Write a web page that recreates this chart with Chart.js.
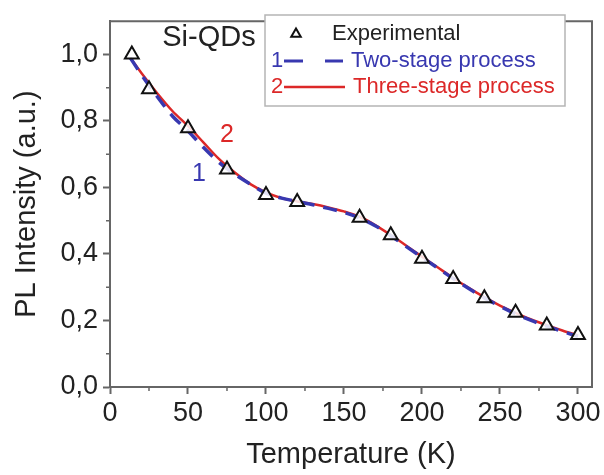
<!DOCTYPE html>
<html>
<head>
<meta charset="utf-8">
<script src="https://cdn.jsdelivr.net/npm/chart.js@4.4.1/dist/chart.umd.min.js"></script>
<style>
  html, body { margin: 0; padding: 0; background: #fff; }
  #wrap { width: 604px; height: 475px; }
</style>
</head>
<body>
<div id="wrap"><canvas id="plChart"></canvas></div>
<script>
// ── Data ──────────────────────────────────────────────────────────────────
const expTemp  = [14, 25, 50, 75, 100, 120, 160, 180, 200, 220, 240, 260, 280, 300];
const expPL    = [1.0, 0.895, 0.778, 0.654, 0.577, 0.556, 0.509, 0.456, 0.386, 0.325, 0.267, 0.223, 0.185, 0.156];

const fitTemp  = [13, 20, 30, 40, 50, 60, 70, 80, 90, 100, 110, 120, 130, 140, 150,
                  160, 170, 180, 190, 200, 210, 220, 230, 240, 250, 260, 270, 280, 290, 300];
const twoStage = [0.99, 0.94, 0.875, 0.815, 0.77, 0.72, 0.675, 0.64, 0.61, 0.583, 0.568, 0.558, 0.548, 0.537, 0.525,
                  0.508, 0.485, 0.455, 0.422, 0.39, 0.358, 0.326, 0.296, 0.268, 0.243, 0.22, 0.2, 0.183, 0.167, 0.152];
const threeStage = [0.99, 0.945, 0.885, 0.83, 0.785, 0.735, 0.685, 0.645, 0.61, 0.585, 0.568, 0.558, 0.55, 0.54, 0.528,
                  0.512, 0.487, 0.457, 0.425, 0.392, 0.36, 0.328, 0.298, 0.27, 0.245, 0.223, 0.203, 0.186, 0.17, 0.155];

const xMajor = [0, 50, 100, 150, 200, 250, 300];
const xMinor = [25, 75, 125, 175, 225, 275];
const yMajor = [0, 0.2, 0.4, 0.6, 0.8, 1.0];
const yMinor = [0.1, 0.3, 0.5, 0.7, 0.9];

const FONT = "'Liberation Sans', Arial, sans-serif";
const BLUE = '#3838b0';
const RED  = '#dc2828';
const AXIS = '#666';

const toXY = (xs, ys) => xs.map((x, i) => ({ x, y: ys[i] }));

// ── Frame, minor ticks, annotations and legend ────────────────────────────
const decorations = {
    id: 'decorations',
    afterDatasetsDraw(chart) {
        const { ctx, chartArea: a, scales: { x, y } } = chart;
        ctx.save();
        // top/right frame
        ctx.strokeStyle = AXIS;
        ctx.lineWidth = 2;
        ctx.beginPath();
        ctx.moveTo(a.left, a.top);
        ctx.lineTo(a.right, a.top);
        ctx.lineTo(a.right, a.bottom);
        ctx.stroke();
        // minor ticks
        ctx.lineWidth = 1.5;
        ctx.beginPath();
        xMinor.forEach(v => {
            const px = x.getPixelForValue(v);
            ctx.moveTo(px, a.bottom);
            ctx.lineTo(px, a.bottom + 4);
        });
        yMinor.forEach(v => {
            const py = y.getPixelForValue(v);
            ctx.moveTo(a.left, py);
            ctx.lineTo(a.left - 4, py);
        });
        ctx.stroke();

        // sample label and curve numbers
        ctx.textAlign = 'center';
        ctx.textBaseline = 'middle';
        ctx.fillStyle = '#222';
        ctx.font = `29px ${FONT}`;
        ctx.fillText('Si-QDs', 209, 38);
        ctx.font = `25px ${FONT}`;
        ctx.fillStyle = BLUE;
        ctx.fillText('1', x.getPixelForValue(57), y.getPixelForValue(0.64));
        ctx.fillStyle = RED;
        ctx.fillText('2', x.getPixelForValue(75), y.getPixelForValue(0.757));

        // legend box
        ctx.fillStyle = '#fff';
        ctx.fillRect(265, 15, 300, 91);
        ctx.strokeStyle = '#b5b5b5';
        ctx.lineWidth = 1.5;
        ctx.strokeRect(265, 15, 300, 91);

        const rows = [34, 61, 87];
        ctx.font = `22px ${FONT}`;
        ctx.textAlign = 'left';

        // row 1: triangle + Experimental
        ctx.strokeStyle = '#111';
        ctx.lineWidth = 2;
        const r = 5.5, cx = 296, cy = rows[0];
        ctx.beginPath();
        ctx.moveTo(cx, cy - r);
        ctx.lineTo(cx + r * 0.866, cy + r * 0.5);
        ctx.lineTo(cx - r * 0.866, cy + r * 0.5);
        ctx.closePath();
        ctx.stroke();
        ctx.fillStyle = '#222';
        ctx.fillText('Experimental', 332, rows[0]);

        // row 2: blue dashed
        ctx.textAlign = 'center';
        ctx.fillStyle = BLUE;
        ctx.fillText('1', 277, rows[1]);
        ctx.strokeStyle = BLUE;
        ctx.lineWidth = 3;
        ctx.beginPath();
        ctx.moveTo(284, rows[1]); ctx.lineTo(303, rows[1]);
        ctx.moveTo(325, rows[1]); ctx.lineTo(343, rows[1]);
        ctx.stroke();
        ctx.textAlign = 'left';
        ctx.fillText('Two-stage process', 351, rows[1]);

        // row 3: red solid
        ctx.textAlign = 'center';
        ctx.fillStyle = RED;
        ctx.fillText('2', 277, rows[2]);
        ctx.strokeStyle = RED;
        ctx.lineWidth = 2.5;
        ctx.beginPath();
        ctx.moveTo(284, rows[2]); ctx.lineTo(345, rows[2]);
        ctx.stroke();
        ctx.textAlign = 'left';
        ctx.fillText('Three-stage process', 353, rows[2]);
        ctx.restore();
    }
};

// ── Chart ─────────────────────────────────────────────────────────────────
const plCtx = document.getElementById('plChart').getContext('2d');
new Chart(plCtx, {
    type: 'scatter',
    data: {
        datasets: [{
            label: 'Experimental',
            data: toXY(expTemp, expPL),
            showLine: false,
            pointStyle: 'triangle',
            pointRadius: 8,
            pointBorderWidth: 2,
            pointBorderColor: '#111',
            pointBackgroundColor: 'rgba(255,255,255,0.85)',
            order: 0
        }, {
            label: 'Two-stage process',
            data: toXY(fitTemp, twoStage),
            showLine: true,
            borderColor: BLUE,
            borderWidth: 3.5,
            borderDash: [14, 9],
            pointRadius: 0,
            cubicInterpolationMode: 'monotone',
            order: 1
        }, {
            label: 'Three-stage process',
            data: toXY(fitTemp, threeStage),
            showLine: true,
            borderColor: RED,
            borderWidth: 2.5,
            pointRadius: 0,
            cubicInterpolationMode: 'monotone',
            order: 2
        }]
    },
    options: {
        responsive: true,
        maintainAspectRatio: false,
        animation: false,
        layout: { padding: { top: 9, right: 12, left: 0, bottom: 0 } },
        plugins: {
            legend: { display: false },
            tooltip: { enabled: false }
        },
        scales: {
            x: {
                type: 'linear',
                min: 0,
                max: 309,
                afterFit: s => { s.height = 88; },
                afterBuildTicks: s => { s.ticks = xMajor.map(v => ({ value: v })); },
                border: { color: AXIS, width: 2 },
                grid: { drawOnChartArea: false, tickLength: 7, tickColor: AXIS, tickWidth: 2 },
                ticks: { color: '#222', font: { family: FONT, size: 27 }, padding: 3, maxRotation: 0 },
                title: {
                    display: true,
                    text: 'Temperature (K)',
                    color: '#222',
                    font: { family: FONT, size: 29 },
                    padding: { top: 0, bottom: 3 }
                }
            },
            y: {
                min: 0,
                max: 1.1,
                afterFit: s => { s.width = 110; },
                afterBuildTicks: s => { s.ticks = yMajor.map(v => ({ value: v })); },
                border: { color: AXIS, width: 2 },
                grid: { drawOnChartArea: false, tickLength: 7, tickColor: AXIS, tickWidth: 2 },
                ticks: {
                    color: '#222',
                    font: { family: FONT, size: 27 },
                    padding: 5,
                    callback: v => v.toFixed(1).replace('.', ',')
                },
                title: {
                    display: true,
                    text: 'PL Intensity (a.u.)',
                    color: '#222',
                    font: { family: FONT, size: 29 },
                    padding: { top: 10, bottom: 0 }
                }
            }
        }
    },
    plugins: [decorations]
});
</script>
</body>
</html>
